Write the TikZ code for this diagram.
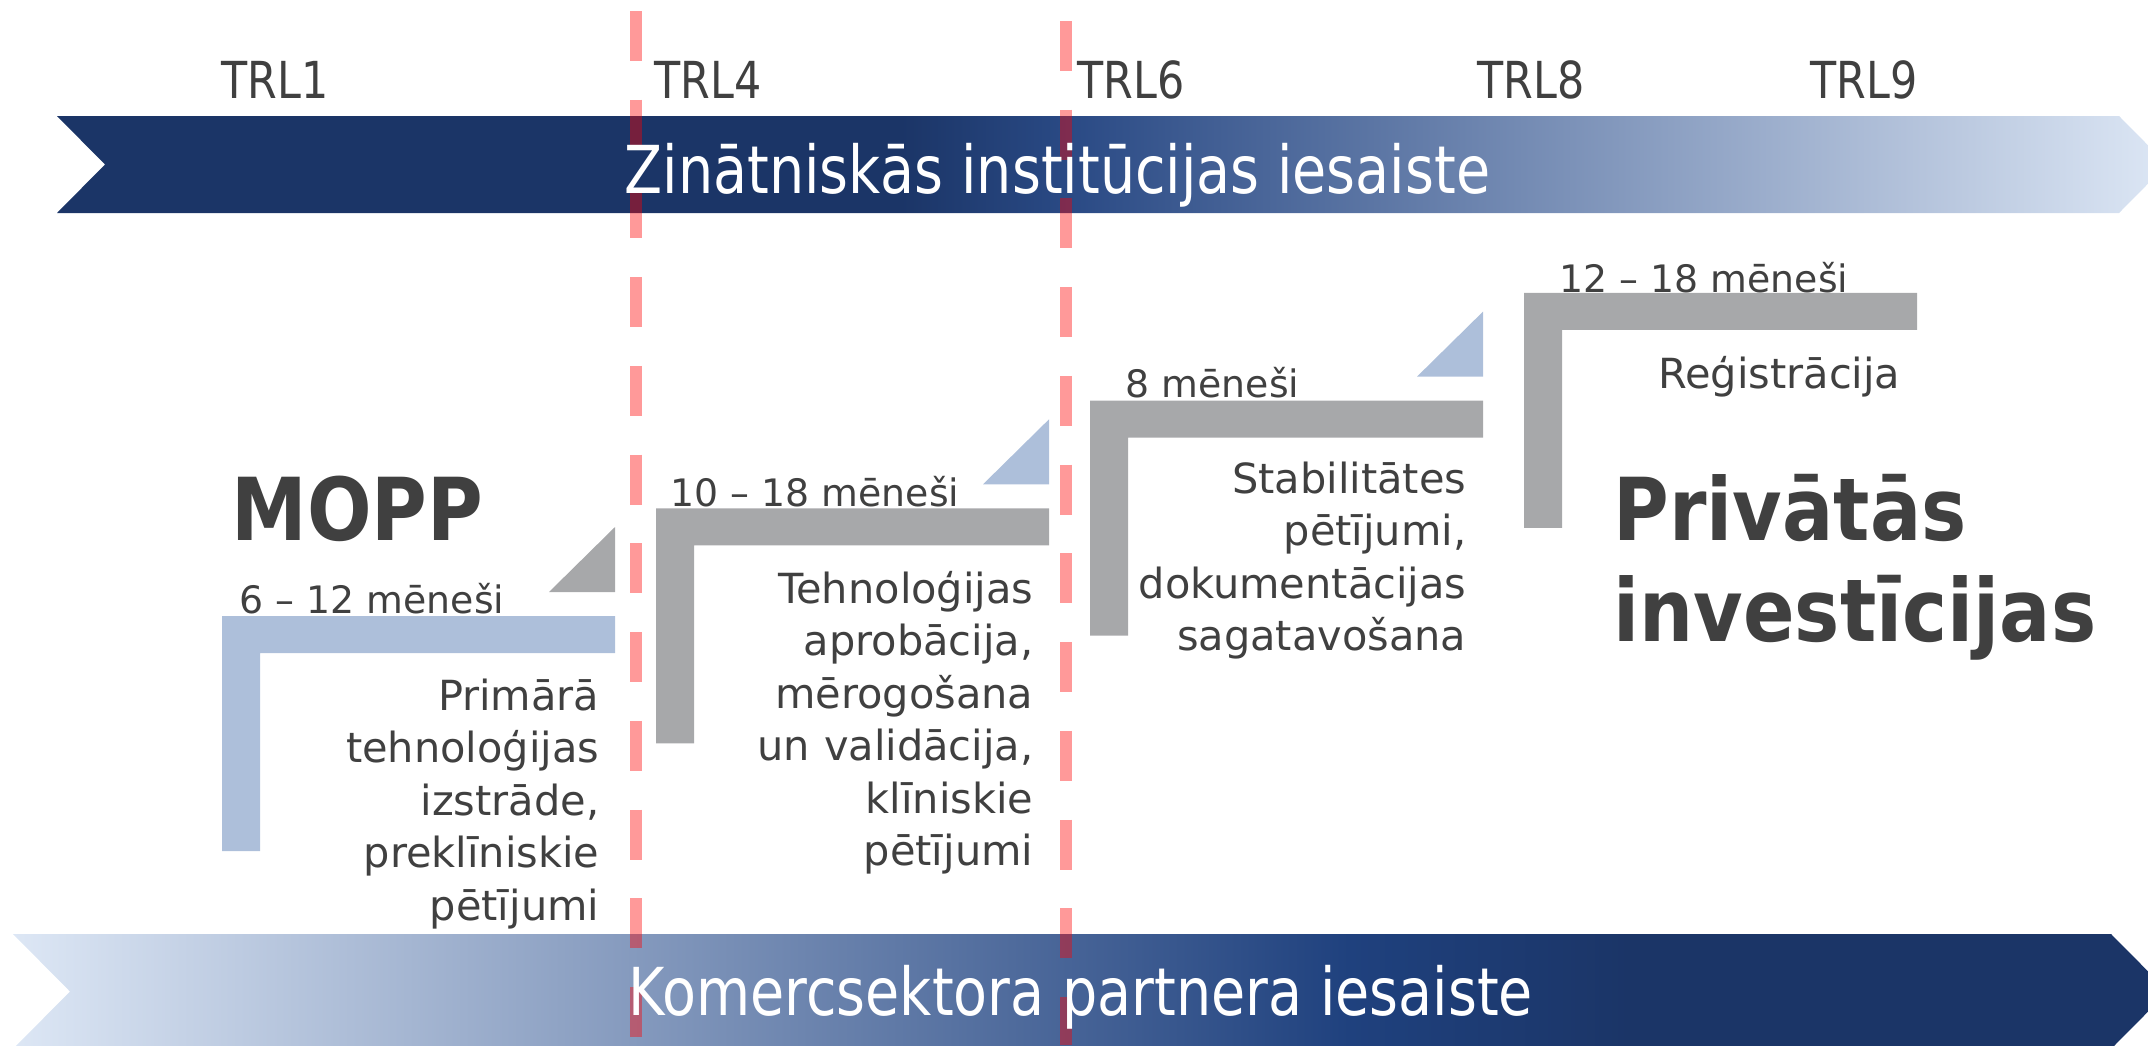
\documentclass[tikz,border=0pt]{standalone}
\usepackage{fontspec}
\setmainfont{DejaVu Sans}
\newfontfamily\narrowfont[FakeStretch=0.84]{DejaVu Sans}
\newfontfamily\headfont[FakeStretch=0.875]{DejaVu Sans}
\definecolor{navy}{HTML}{1B3567}
\definecolor{midnavy}{HTML}{2A4A85}
\definecolor{lownavy}{HTML}{1F417E}
\definecolor{paleblue}{HTML}{DDE7F5}
\definecolor{barblue}{HTML}{ADBFDA}
\definecolor{bargrey}{HTML}{A7A8AA}
\definecolor{txtgrey}{HTML}{404040}
\pgfdeclarehorizontalshading{topband}{100bp}{color(0bp)=(navy); color(25bp)=(navy); color(45bp)=(navy); color(49bp)=(midnavy); color(75bp)=(paleblue); color(100bp)=(paleblue)}
\pgfdeclarehorizontalshading{bottomband}{100bp}{color(0bp)=(paleblue); color(25bp)=(paleblue); color(56bp)=(lownavy); color(62.5bp)=(navy); color(100bp)=(navy)}
\begin{document}
\begin{tikzpicture}[x=0.01cm,y=-0.01cm,
  trl/.style={font=\narrowfont\fontsize{14.5}{17}\selectfont, text=txtgrey, inner sep=0pt, anchor=base west},
  band/.style={font=\narrowfont\fontsize{18.8}{22}\selectfont, text=white, inner sep=0pt, anchor=base west},
  months/.style={font=\fontsize{10.75}{13}\selectfont, text=txtgrey, inner sep=0pt, anchor=base west},
  stage/.style={font=\fontsize{11.8}{14.94}\selectfont, text=txtgrey, inner sep=0pt, anchor=base east, align=right, text width=4cm},
  funder/.style={font=\headfont\bfseries\fontsize{24.7}{29}\selectfont, text=txtgrey, inner sep=0pt, anchor=base west, align=left, text width=6cm},
  trlline/.style={red, opacity=0.4, line width=3.41pt, dash pattern=on 14.23pt off 11pt}]
  \useasboundingbox (0,0) rectangle (2148,1045);
  \clip (0,0) rectangle (2148,1045);
  % bands
  \shade[shading=topband] (57,116) -- (2119,116) -- (2167,164.5) -- (2119,213) -- (57,213) -- (105,164.5) -- cycle;
  \shade[shading=bottomband] (13,934) -- (2111,934) -- (2168,991.5) -- (2111,1049) -- (13,1049) -- (70,991.5) -- cycle;
  % stage brackets
  \foreach \i/\col in {0/barblue,1/bargrey,2/bargrey,3/bargrey}{
      \pgfmathsetmacro{\X}{222+434*\i}
      \pgfmathsetmacro{\Y}{616-107.7*\i}
      \fill[\col] (\X,\Y) -- ++(393,0) -- ++(0,37) -- ++(-355,0) -- ++(0,198) -- ++(-38,0) -- cycle;}
  \foreach \i/\col in {0/bargrey,1/barblue,2/barblue}{
      \pgfmathsetmacro{\X}{615+434*\i}
      \pgfmathsetmacro{\Y}{592-107.7*\i}
      \fill[\col] (\X,\Y) -- ++(0,-65) -- ++(-66,65) -- cycle;}
  % TRL borders
  \draw[trlline] (636,11) -- (636,1045);
  \draw[trlline] (1066,21) -- (1066,1045);
  \foreach \n/\x in {1/221,4/654,6/1077,8/1477,9/1810}
  \node[trl] (trl\n) at (\x,98) {TRL\n};
  \node[band] (science) at (624,193) {Zinātniskās institūcijas iesaiste};
  \node[band] (business) at (628,1015) {Komercsektora partnera iesaiste};
  \node[months] (m1) at (239,613) {6 – 12 mēneši};
  \node[months] (m2) at (670,506) {10 – 18 mēneši};
  \node[months] (m3) at (1125,397) {8 mēneši};
  \node[months] (m4) at (1559,292) {12 – 18 mēneši};
  \node[stage] (s1) at (600,710) {Primārā\\ tehnoloģijas\\ izstrāde,\\ preklīniskie\\ pētījumi};
  \node[stage] (s2) at (1034,603) {Tehnoloģijas\\ aprobācija,\\ mērogošana\\ un validācija,\\ klīniskie\\ pētījumi};
  \node[stage] (s3) at (1467,493) {Stabilitātes\\ pētījumi,\\ dokumentācijas\\ sagatavošana};
  \node[stage] (s4) at (1901,388) {Reģistrācija};
  \node[funder] (mopp) at (231,540) {MOPP};
  \node[funder] (private) at (1613,540) {Privātās\\ investīcijas};
\end{tikzpicture}
\end{document}
